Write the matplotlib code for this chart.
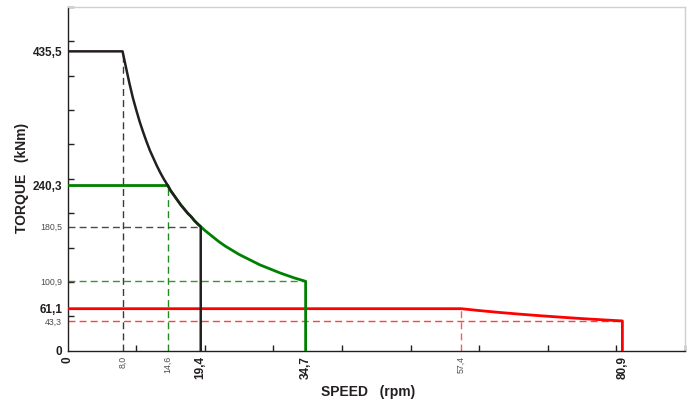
import matplotlib.pyplot as plt
from matplotlib.ticker import FixedLocator

plt.rcParams['font.family'] = ['Liberation Sans', 'DejaVu Sans']

# black curve (full torque, constant power branch)
black_speed = [0, 8.0, 8.5, 9.0, 9.5, 10.0, 10.5, 11.0, 11.5, 12.0, 12.5, 13.0, 13.5, 14.0,
               14.6, 15.0, 15.5, 16.0, 16.5, 17.0, 17.5, 18.0, 18.5, 19.0, 19.4, 19.4]
black_torque = [435.5, 435.5, 412, 389, 368, 350, 333, 318, 304, 291, 280, 269, 259, 250,
                240.3, 233, 226, 219, 212, 206, 200, 195, 189, 184, 180.5, 0]

# green curve
green_speed = [0, 14.6, 15.0, 15.5, 16.0, 16.5, 17.0, 17.5, 18.0, 18.5, 19.0, 19.4, 20, 21,
               22, 23, 24, 25, 26, 27, 28, 29, 30, 31, 32, 33, 34, 34.7, 34.7]
green_torque = [240.3, 240.3, 233, 226, 219, 212, 206, 200, 195, 189, 184, 180.5, 175, 167,
                159, 152, 146, 140, 135, 130, 125, 121, 117, 113, 109.5, 106, 103, 100.9, 0]

# red curve
red_speed = [0, 57.4, 60, 63, 66, 69, 72, 75, 78, 80.9, 80.9]
red_torque = [61.1, 61.1, 58.4, 55.6, 53.1, 50.8, 48.7, 46.7, 44.9, 43.3, 0]

# reference dashed guides: (x0, x1, y0, y1, colour)
guides = [
    (8.0, 8.0, 0, 435.5, '#3a3a3a'),
    (14.6, 14.6, 0, 240.3, '#1f8a1f'),
    (0, 19.4, 180.5, 180.5, '#4a4a4a'),
    (0, 34.7, 100.9, 100.9, '#3a933a'),
    (0, 80.9, 43.3, 43.3, '#ff4040'),
    (57.4, 57.4, 0, 61.1, '#ff5a5a'),
]

x_labels = [0, 8.0, 14.6, 19.4, 34.7, 57.4, 80.9]
x_bold = [True, False, False, True, True, False, True]
y_labels = [0, 43.3, 61.1, 100.9, 180.5, 240.3, 435.5]
y_bold = [True, False, True, False, False, True, True]

fig = plt.figure(figsize=(6.91, 4.03), dpi=100)
ax = fig.add_axes([0.098, 0.1298, 0.893, 0.8528])

for x0, x1, y0, y1, c in guides:
    ax.plot([x0, x1], [y0, y1], color=c, lw=1.0, dashes=(5, 3), zorder=2)

ax.plot(red_speed, red_torque, color='#ff0000', lw=2.0, zorder=3, solid_joinstyle='round')
ax.plot(green_speed, green_torque, color='#008000', lw=2.0, zorder=4, solid_joinstyle='round')
ax.plot(black_speed, black_torque, color='#231f20', lw=1.8, zorder=5, solid_joinstyle='round')

ax.set_xlim(0, 90)
ax.set_ylim(0, 500)

ax.xaxis.set_major_locator(FixedLocator(x_labels))
ax.yaxis.set_major_locator(FixedLocator(y_labels))
ax.set_xticklabels([f"{v:.1f}".replace('.', ',') if v else "0" for v in x_labels], rotation=90)
ax.set_yticklabels([f"{v:.1f}".replace('.', ',') if v else "0" for v in y_labels])
ax.tick_params(which='major', length=0, pad=4)

for lbl, b in zip(ax.get_xticklabels() + ax.get_yticklabels(), x_bold + y_bold):
    if b:
        lbl.set_fontsize(8.5)
        lbl.set_fontweight('bold')
        lbl.set_color('#231f20')
    else:
        lbl.set_fontsize(6.3)
        lbl.set_color('#4d4d4d')

ax.xaxis.set_minor_locator(FixedLocator(range(10, 91, 10)))
ax.yaxis.set_minor_locator(FixedLocator(range(50, 501, 50)))
ax.tick_params(which='minor', direction='in', length=4, width=1, color='#231f20')

for side in ['left', 'bottom']:
    ax.spines[side].set_color('#231f20')
    ax.spines[side].set_linewidth(1.0)
for side in ['top', 'right']:
    ax.spines[side].set_color('#d0d0d0')
    ax.spines[side].set_linewidth(1.0)

fig.text(368 / 691, 1 - 392 / 403, "SPEED   (rpm)", ha='center', va='center',
         fontsize=10, fontweight='bold', color='#231f20')
fig.text(22 / 691, 1 - 178 / 403, "TORQUE   (kNm)", ha='center', va='center',
         rotation=90, fontsize=10, fontweight='bold', color='#231f20')

fig.savefig('out.png', dpi=100)
